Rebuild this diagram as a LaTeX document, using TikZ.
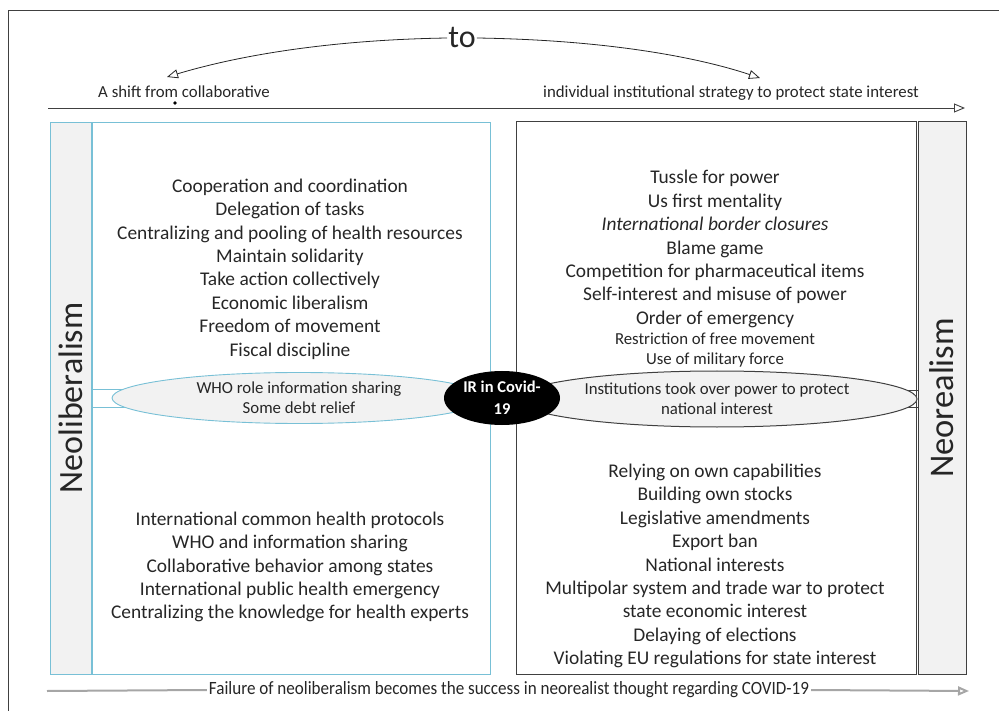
\documentclass[tikz,border=0pt]{standalone}
\usepackage{fontspec}
\setmainfont{Carlito}
\usetikzlibrary{arrows.meta,shapes.geometric}
\definecolor{txt}{HTML}{262626}
\definecolor{blueb}{HTML}{78C0D6}
\definecolor{darkb}{HTML}{404040}
\definecolor{barfill}{HTML}{F2F2F2}
\tikzset{
  every node/.style={text=txt},
  mainlist/.style={align=center,font=\fontsize{19.4}{23.4}\selectfont,inner sep=0pt},
  smalllist/.style={align=center,font=\fontsize{16.8}{19.8}\selectfont,inner sep=0pt},
  opentip/.style={-{Triangle[open,length=11pt,width=9pt]}},
  bluebox/.style={draw=blueb,line width=0.9pt},
  darkbox/.style={draw=darkb,line width=1pt},
}
\begin{document}
\begin{tikzpicture}[x=1pt,y=-1pt]
\useasboundingbox (0,0) rectangle (999,711);
% outer frame
\draw[darkb,line width=1pt] (1005,11) -- (8,11) -- (8,720);
% title arrows
\node[font=\fontsize{32}{34}\selectfont,inner sep=1pt] (to) at (462,38) {to};
\coordinate (lt) at (167,77);
\coordinate (rt) at (760,78);
\draw[opentip,line width=0.8pt,txt] (to.west) .. controls (320,40) and (230,58) .. (lt);
\draw[opentip,line width=0.8pt,txt] (to.east) .. controls (610,40) and (700,58) .. (rt);
\node[font=\fontsize{16.8}{18}\selectfont,anchor=base] (shift) at (184,98) {A shift from collaborative};
\node[font=\fontsize{16.8}{18}\selectfont,anchor=base] (indiv) at (731,98) {individual institutional strategy to protect state interest};
\fill[black] (175,103) circle (1.8);
% top axis arrow
\coordinate (ta1) at (48,108);
\coordinate (ta2) at (965,108);
\draw[opentip,line width=0.9pt,darkb] (ta1) -- (ta2);
% left side
\node[bluebox,fill=barfill,minimum width=41,minimum height=552,inner sep=0pt] (lbar) at (71,398) {};
\node[bluebox,minimum width=398,minimum height=552,inner sep=0pt] (lbox) at (291,398) {};
\node[rotate=90,font=\fontsize{34}{36}\selectfont] (neolib) at (lbar.center) {Neoliberalism};
% right side
\node[darkbox,minimum width=400,minimum height=552,inner sep=0pt] (rbox) at (716,398) {};
\node[darkbox,fill=barfill,minimum width=48,minimum height=552,inner sep=0pt] (rbar) at (942,398) {};
\node[rotate=90,font=\fontsize{34.5}{36}\selectfont] (neoreal) at (rbar.center) {Neorealism};
% connector lines
\draw[blueb,line width=0.9pt] (91,389) -- (130,389);
\draw[blueb,line width=0.9pt] (91,407) -- (130,407);
\draw[darkb,line width=0.9pt] (900,390) -- (918,390);
\draw[darkb,line width=0.9pt] (900,407) -- (918,407);
% ellipses
\node[ellipse,draw=blueb,line width=0.9pt,fill=barfill,minimum width=374,minimum height=51,inner sep=0pt,align=center,font=\fontsize{16.8}{20}\selectfont] (lell) at (299,398) {WHO role information sharing\\Some debt relief};
\node[ellipse,draw=darkb,line width=1pt,fill=barfill,minimum width=400,minimum height=56,inner sep=0pt,align=center,font=\fontsize{16.8}{20}\selectfont] (rell) at (717,399) {Institutions took over power to protect\\national interest};
\node[ellipse,fill=black,minimum width=116,minimum height=54,inner sep=0pt,align=center,text=white,font=\bfseries\fontsize{16.5}{22}\selectfont] (ir) at (502,398) {IR in Covid-\\19};
% left lists
\node[mainlist] (ltop) at (290,269) {Cooperation and coordination\\Delegation of tasks\\Centralizing and pooling of health resources\\Maintain solidarity\\Take action collectively\\Economic liberalism\\Freedom of movement\\Fiscal discipline};
\node[mainlist] (lbot) at (290,567) {International common health protocols\\WHO and information sharing\\Collaborative behavior among states\\International public health emergency\\Centralizing the knowledge for health experts};
% right lists
\node[mainlist] (rtop) at (715,249) {Tussle for power\\Us first mentality\\\textit{International border closures}\\Blame game\\Competition for pharmaceutical items\\Self-interest and misuse of power\\Order of emergency};
\node[smalllist] (rsmall) at (715,350) {Restriction of free movement\\Use of military force};
\node[mainlist] (rbot) at (715,566) {Relying on own capabilities\\Building own stocks\\Legislative amendments\\Export ban\\National interests\\Multipolar system and trade war to protect\\state economic interest\\Delaying of elections\\Violating EU regulations for state interest};
% bottom axis
\coordinate (ba1) at (47,691);
\coordinate (ba2) at (969,691);
\node[fill=white,inner sep=2pt] (fail) at (509,690) {\resizebox{600pt}{13pt}{\fontsize{16}{18}\selectfont Failure of neoliberalism becomes the success in neorealist thought regarding COVID-19}};
\draw[line width=2pt,gray!70] (ba1) -- (fail.west);
\draw[opentip,line width=2pt,gray!70] (fail.east) -- (ba2);
\end{tikzpicture}
\end{document}
